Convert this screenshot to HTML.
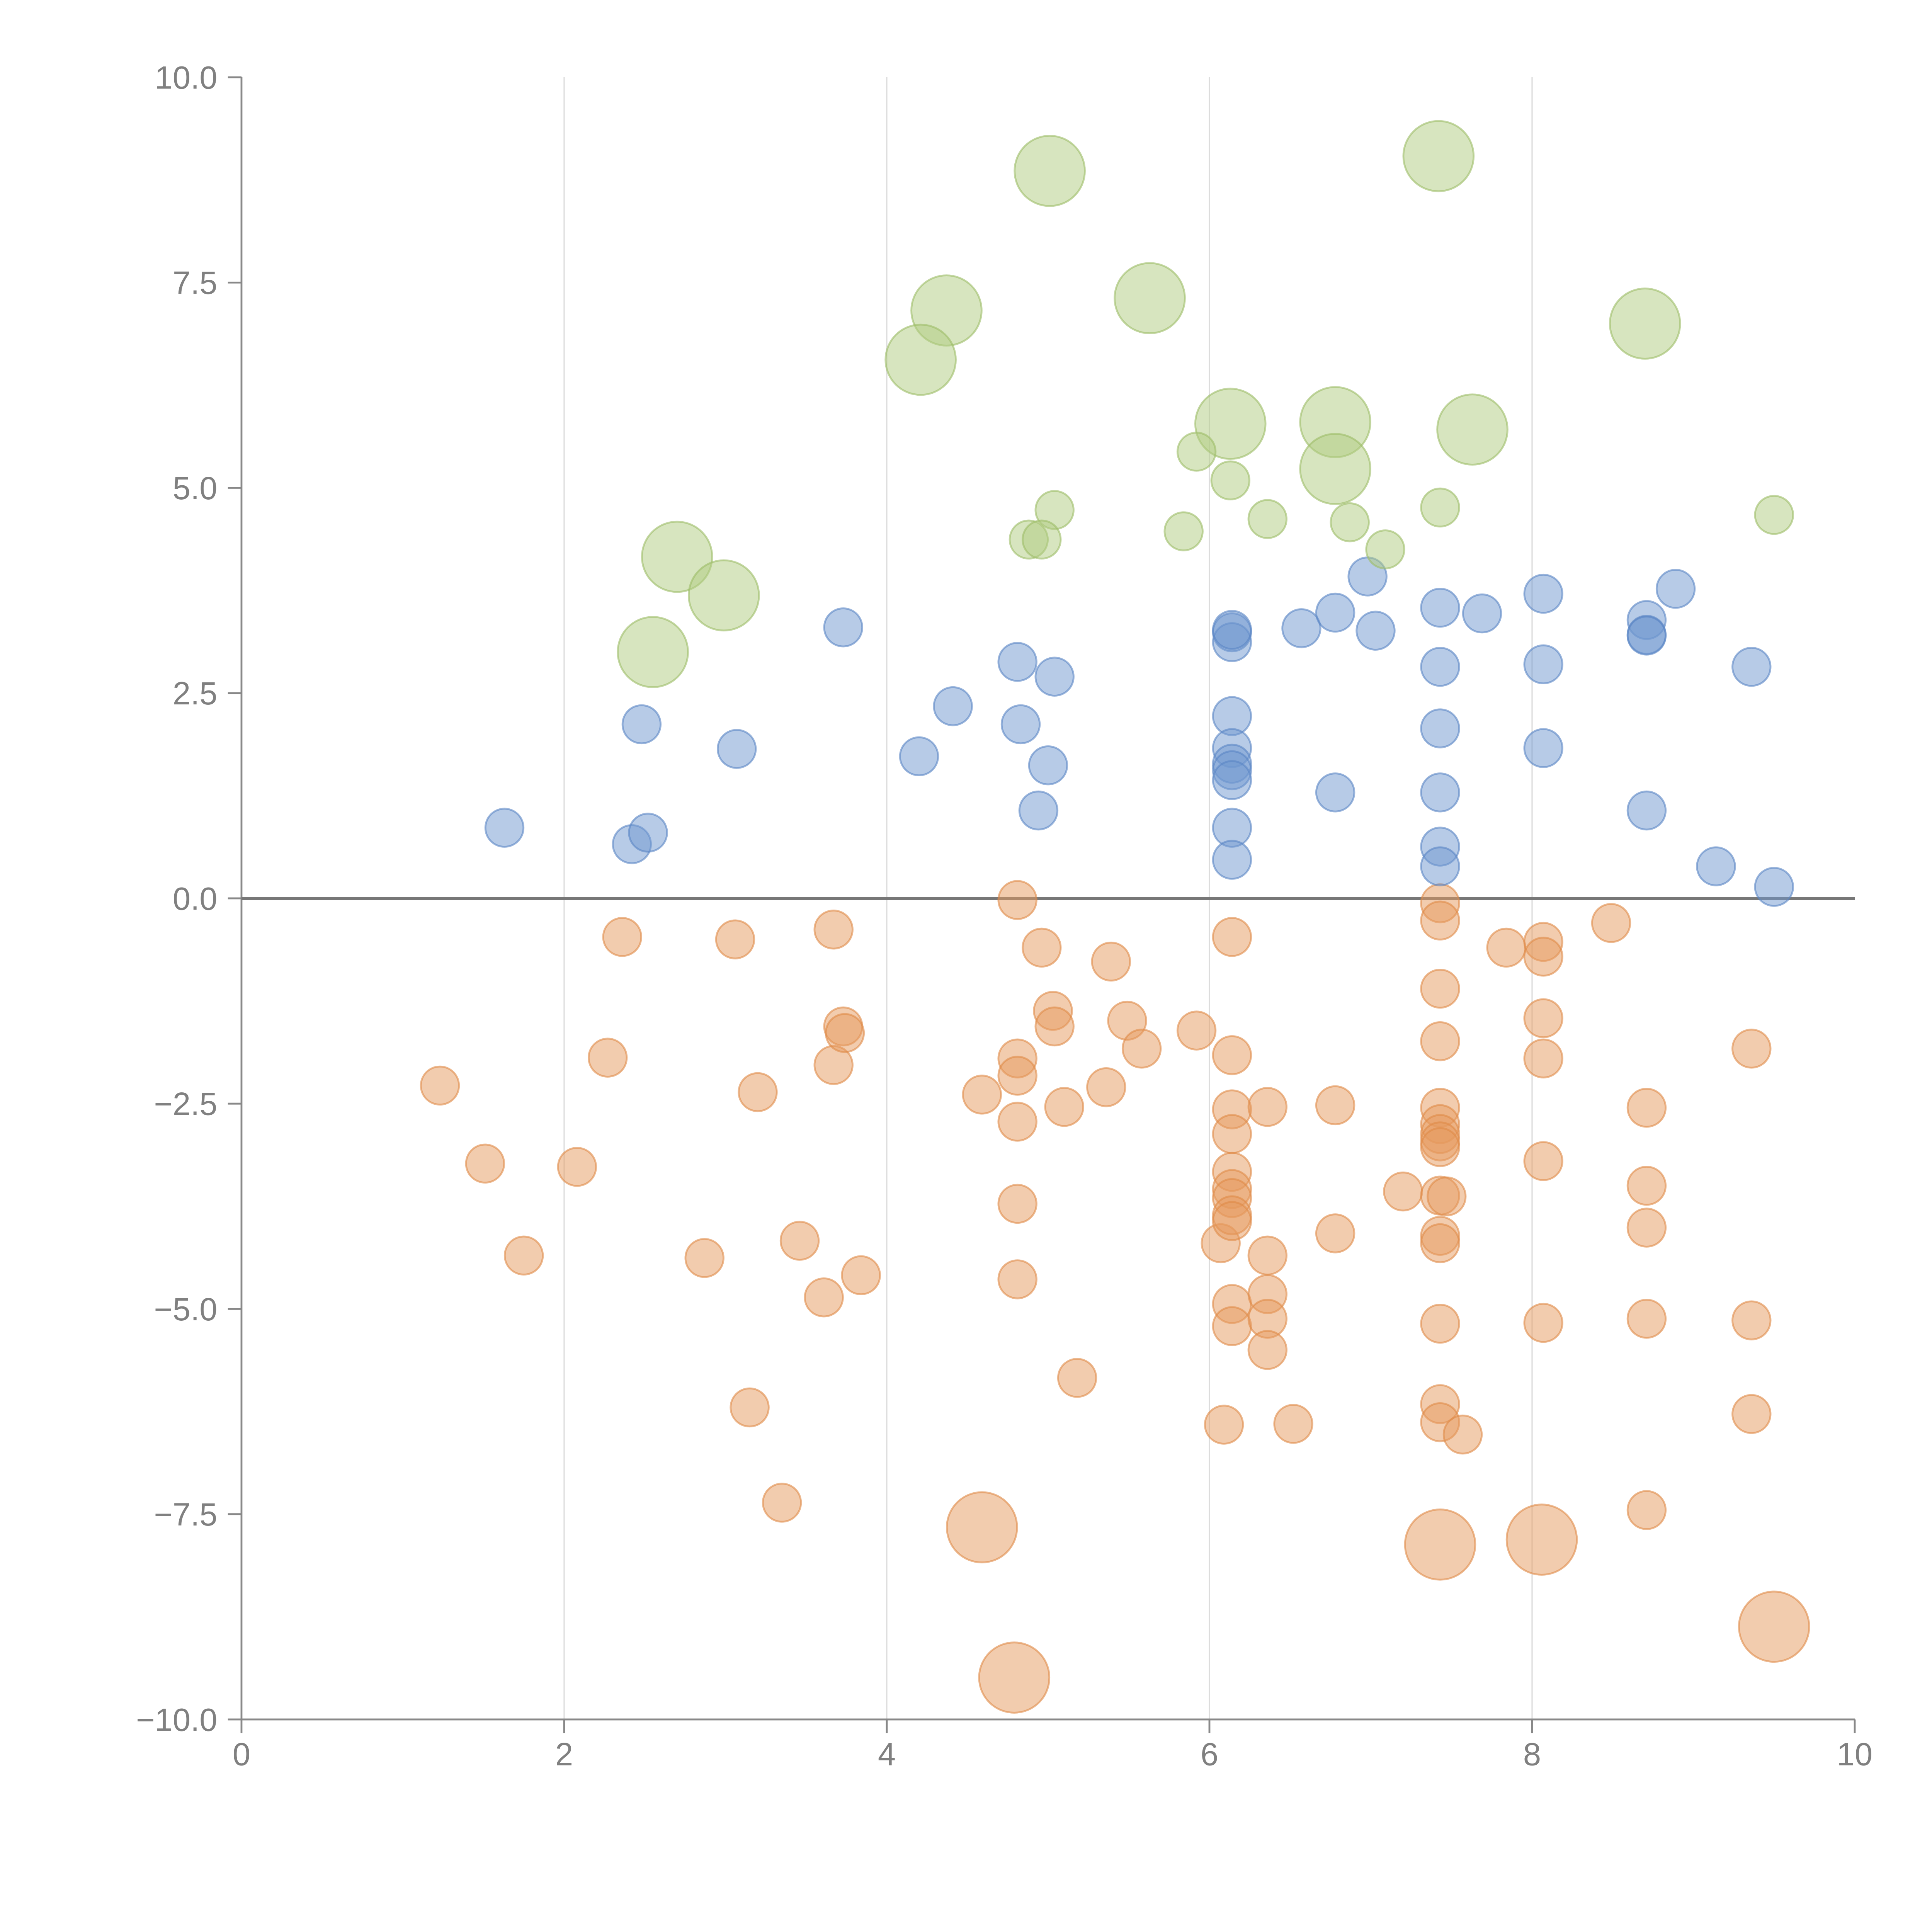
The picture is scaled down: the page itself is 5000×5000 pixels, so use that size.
<!DOCTYPE html>
<html><head><meta charset="utf-8"><style>html,body{margin:0;padding:0;background:#fff}svg{display:block}</style></head>
<body>
<svg id="chart" xmlns="http://www.w3.org/2000/svg" width="5000" height="5000" viewBox="0 0 1562.5 1562.5" font-family="'Liberation Sans', sans-serif">
<g id="grid"></g>
<g id="axes"></g>
<g id="marks"></g>
</svg>
<script>
const xTicks=[0,2,4,6,8,10];
const yTicks=[-10,-7.5,-5,-2.5,0,2.5,5,7.5,10];
const yTickLabels=["\u221210.0","\u22127.5","\u22125.0","\u22122.5","0.0","2.5","5.0","7.5","10.0"];
const greenX=[5.01,7.42,4.37,5.63,4.21,8.70,6.13,6.78,7.63,6.78,2.70,2.99,2.55,5.92,6.13,5.04,7.43,9.50,6.36,6.87,5.84,4.88,4.96,7.09];
const greenY=[8.86,9.04,7.16,7.31,6.56,7.00,5.78,5.80,5.71,5.23,4.16,3.69,3.00,5.44,5.09,4.73,4.76,4.67,4.62,4.58,4.47,4.37,4.37,4.25];
const greenS=[2,2,2,2,2,2,2,2,2,2,2,2,2,1,1,1,1,1,1,1,1,1,1,1];
const blueX=[1.63,2.42,2.52,2.48,3.07,3.73,4.20,4.41,4.81,4.83,5.04,5.00,4.94,6.14,6.14,6.14,6.14,6.14,6.14,6.14,6.14,6.14,6.14,6.57,6.78,6.98,7.03,6.78,7.43,7.43,7.43,7.43,7.43,7.43,7.69,8.07,8.07,8.07,8.71,8.71,8.71,8.89,8.71,9.36,9.14,9.50];
const blueY=[0.86,0.66,0.80,2.12,1.82,3.30,1.73,2.34,2.88,2.12,2.70,1.62,1.07,3.24,3.12,3.27,2.22,1.83,1.64,1.56,1.44,0.86,0.47,3.29,3.48,3.92,3.26,1.29,3.54,2.82,2.07,1.29,0.63,0.39,3.47,3.71,2.85,1.83,3.39,3.21,3.20,3.77,1.07,2.82,0.39,0.14];
const orangeX=[1.23,1.51,1.75,2.08,2.27,2.36,2.87,3.06,3.20,3.15,3.35,3.46,3.61,3.67,3.67,3.73,3.74,3.84,4.59,4.81,4.81,4.81,4.81,4.81,4.81,4.96,5.03,5.04,5.10,5.18,5.36,5.39,5.49,5.58,5.92,6.07,6.09,6.14,6.14,6.14,6.14,6.14,6.14,6.14,6.14,6.14,6.14,6.14,6.36,6.36,6.36,6.36,6.36,6.52,6.78,6.78,7.20,7.43,7.43,7.43,7.43,7.43,7.43,7.43,7.43,7.43,7.43,7.47,7.43,7.43,7.43,7.43,7.43,7.57,7.84,8.07,8.07,8.07,8.07,8.07,8.07,8.49,8.71,8.71,8.71,8.71,8.71,9.36,9.36,9.36,4.59,4.79,7.43,8.06,9.50];
const orangeY=[-2.28,-3.23,-4.35,-3.27,-1.94,-0.47,-4.38,-0.50,-2.36,-6.20,-7.36,-4.17,-4.86,-0.38,-2.03,-1.56,-1.64,-4.59,-2.39,-0.02,-1.95,-2.16,-2.72,-3.72,-4.64,-0.60,-1.37,-1.56,-2.54,-5.84,-2.30,-0.77,-1.49,-1.83,-1.61,-4.20,-6.41,-0.47,-1.91,-2.57,-2.87,-3.33,-3.54,-3.65,-3.86,-3.93,-4.94,-5.21,-2.54,-4.35,-4.82,-5.12,-5.50,-6.40,-2.52,-4.08,-3.57,-0.06,-0.27,-1.10,-1.74,-2.55,-2.75,-2.87,-2.96,-3.03,-3.62,-3.63,-4.11,-4.20,-5.18,-6.16,-6.38,-6.53,-0.60,-0.53,-0.71,-1.46,-1.95,-3.20,-5.17,-0.30,-2.55,-3.50,-4.01,-5.12,-7.45,-1.83,-5.14,-6.28,-7.66,-9.49,-7.87,-7.81,-8.87];
const orangeS=orangeX.map((_,i)=>i>=orangeX.length-5?2:1);
const blueS=blueX.map(()=>1);

const NS="http://www.w3.org/2000/svg";
const X0=195.3,X1=1500,Y0=1390.6,Y1=62.5;
const xs=v=>X0+(v-0)/(10-0)*(X1-X0);
const ys=v=>Y0-(v+10)/20*(Y0-Y1);
const rs=s=>s===2?28.4:15.4;
function mk(tag,attrs,parent){const e=document.createElementNS(NS,tag);for(const k in attrs)e.setAttribute(k,attrs[k]);parent.appendChild(e);return e;}
const grid=document.getElementById('grid'),axes=document.getElementById('axes'),marks=document.getElementById('marks');

xTicks.forEach(t=>{
  if(t>0&&t<10){const g=mk('line',{x1:xs(t),x2:xs(t),y1:Y1,y2:Y0,stroke:'#dcdcdc','stroke-width':1},grid);
  
  }
  const tk=mk('line',{x1:xs(t),x2:xs(t),y1:Y0,y2:Y0+11,stroke:'#888','stroke-width':1.5},axes);
  
  
  const tx=mk('text',{x:xs(t),y:Y0+37,'text-anchor':'middle','font-size':26,fill:'#808080'},axes);
  tx.textContent=String(t);
  
  
});
yTicks.forEach((t,i)=>{
  const tk=mk('line',{x1:X0-11,x2:X0,y1:ys(t),y2:ys(t),stroke:'#888','stroke-width':1.5},axes);
  
  
  const tx=mk('text',{x:X0-19.5,y:ys(t)+9.2,'text-anchor':'end','font-size':26,fill:'#808080'},axes);
  tx.textContent=yTickLabels[i];
  
  
});
const ya=mk('line',{x1:X0,x2:X0,y1:Y1,y2:Y0,stroke:'#888','stroke-width':1.5},axes);


const xa=mk('line',{x1:X0,x2:X1,y1:Y0,y2:Y0,stroke:'#888','stroke-width':1.5},axes);



function series(X,Y,S,fill,stroke,name){
  const g=mk('g',{},marks);
  
  
  X.forEach((x,i)=>{
    const c=mk('circle',{cx:xs(x),cy:ys(Y[i]),r:rs(S[i]),fill:fill,'fill-opacity':0.5,stroke:stroke,'stroke-opacity':0.6,'stroke-width':1.5},g);
    
    
  });
}
series(orangeX,orangeY,orangeS,'#e69a5e','#e08a48','orange');
const zl=mk('line',{x1:X0,x2:X1,y1:ys(0),y2:ys(0),stroke:'#777','stroke-width':2.5},axes);


series(blueX,blueY,blueS,'#6f98d0','#5a86c4','blue');
series(greenX,greenY,greenS,'#afcb7f','#9cbd68','green');
</script>
</body></html>
